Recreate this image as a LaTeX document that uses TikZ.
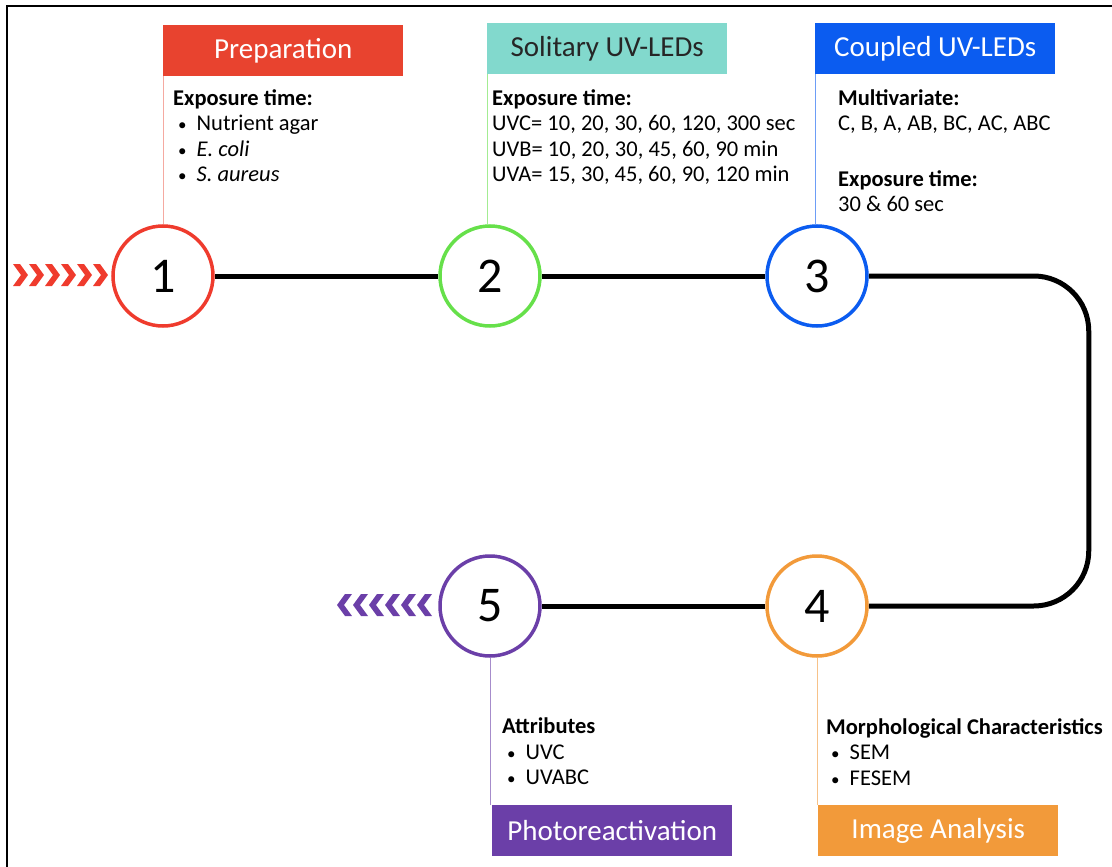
\documentclass[tikz,border=0pt]{standalone}
\usepackage{fontspec}
\setmainfont{Carlito}
\usetikzlibrary{positioning}
\definecolor{prepred}{HTML}{E8432F}
\definecolor{ringred}{HTML}{EF3B2D}
\definecolor{soloteal}{HTML}{82D9CD}
\definecolor{ringgreen}{HTML}{66E04A}
\definecolor{coupblue}{HTML}{0B5CF0}
\definecolor{photopurple}{HTML}{6B3FA8}
\definecolor{imgorange}{HTML}{F29A3A}
\newcommand{\dotitem}{\hspace*{5pt}{\fontsize{17}{17}\selectfont\textbullet}\hspace{10pt}}
\begin{document}
\begin{tikzpicture}[x=1pt, y=-1pt,
    stage/.style={circle, draw=#1, line width=3.5pt, fill=white, minimum size=100pt, inner sep=0pt, font=\fontsize{50}{50}\selectfont},
    labelbox/.style={fill=#1, minimum width=240pt, minimum height=51pt, inner sep=0pt, anchor=north west, font=\fontsize{29}{29}\selectfont},
    info/.style={anchor=north west, align=left, inner sep=0pt, font=\fontsize{22.5}{25.5}\selectfont},
    link/.style={line width=5pt, black},
    stem/.style={line width=1pt, draw=#1}]
    \useasboundingbox (0,0) rectangle (1112,867);
    \draw[line width=1.5pt] (7,875) |- (1120,6);
    
    \node[stage=ringred] (c1) at (163,276) {1};
    \node[stage=ringgreen] (c2) at (490,276) {2};
    \node[stage=coupblue] (c3) at (817,276) {3};
    \node[stage=imgorange] (c4) at (817,606) {4};
    \node[stage=photopurple] (c5) at (490,606) {5};
    
    \node[labelbox=prepred, text=white] (prep) at (163,25) {Preparation};
    \node[labelbox=soloteal, text=black!85] (solo) at (487,23) {Solitary UV-LEDs};
    \node[labelbox=coupblue, text=white] (coup) at (815,23) {Coupled UV-LEDs};
    \node[labelbox=photopurple, text=white] (photo) at (492,805) {Photoreactivation};
    \node[labelbox=imgorange, text=white] (img) at (818,805) {Image Analysis};
    
    \node[info] (prepinfo) at (173,89) {\textbf{Exposure time:}\\
        \dotitem Nutrient agar\\
        \dotitem \textit{E. coli}\\
        \dotitem \textit{S. aureus}};
    \node[info] (soloinfo) at (492,89) {\textbf{Exposure time:}\\
        UVC= 10, 20, 30, 60, 120, 300 sec\\
        UVB= 10, 20, 30, 45, 60, 90 min\\
        UVA= 15, 30, 45, 60, 90, 120 min};
    \node[info] (coupinfo) at (838,89) {\textbf{Multivariate:}\\
        C, B, A, AB, BC, AC, ABC\\[30pt]
        \textbf{Exposure time:}\\
        30 \& 60 sec};
    \node[info] (photoinfo) at (502,718) {\textbf{Attributes}\\
        \dotitem UVC\\
        \dotitem UVABC};
    \node[info] (imginfo) at (826,718) {\textbf{Morphological Characteristics}\\
        \dotitem SEM\\
        \dotitem FESEM};
    
    \draw[stem=prepred!45] (prep.south west) -- (prep.south west |- c1.north);
    \draw[stem=ringgreen!60] (solo.south west) -- (solo.south west |- c2.north);
    \draw[stem=coupblue!60] (coup.south west) -- (coup.south west |- c3.north);
    \draw[stem=photopurple!60] (c5.south) -- (c5.south |- photo.north);
    \draw[stem=imgorange!60] (c4.south) -- (c4.south |- img.north);
    
    \draw[link] (c1) to[] (c2);
    \draw[link] (c2) to[] (c3);
    \draw[link, rounded corners=55pt] (c3.east) -- ++(220,0) |- (c4.east);
    \draw[link] (c4) to[] (c5);
    
    \foreach \i in {0,...,5}
        \fill[ringred] ({13+16*\i},264) -- ++(7,0) -- ++(8,11) -- ++(-8,11) -- ++(-7,0) -- ++(8,-11) -- cycle;
    \foreach \i in {0,...,5}
        \fill[photopurple] ({432-16*\i},594) -- ++(-7,0) -- ++(-8,11) -- ++(8,11) -- ++(7,0) -- ++(-8,-11) -- cycle;
\end{tikzpicture}
\end{document}
